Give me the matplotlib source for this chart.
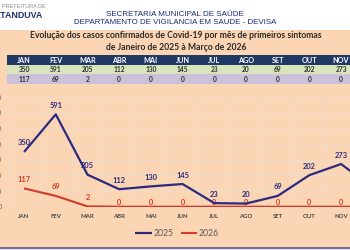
import numpy as np
import matplotlib
matplotlib.use('Agg')
import matplotlib.pyplot as plt
from matplotlib.patches import Rectangle
from matplotlib.lines import Line2D

months = ['JAN', 'FEV', 'MAR', 'ABR', 'MAI', 'JUN', 'JUL', 'AGO', 'SET', 'OUT', 'NOV', 'DEZ']
cases_2025 = [350, 591, 205, 112, 130, 145, 23, 20, 69, 202, 273, 120]
cases_2026 = [117, 69, 2, 0, 0, 0, 0, 0, 0, 0, 0, 0]
yticks = [0, 100, 200, 300, 400, 500, 600, 700]

title = ('Evolução dos casos confirmados de Covid-19 por mês de primeiros sintomas\n'
         'de Janeiro de 2025 à Março de 2026')

W, H = 350, 250
peach = '#FCD5B4'
navy = '#2B2A7E'
red = '#D23A2A'
label_font = ['Lato', 'DejaVu Sans']
narrow_font = ['Liberation Sans', 'DejaVu Sans']

fig = plt.figure(figsize=(W / 100, H / 100), dpi=100)
fig.patch.set_facecolor('white')

def fx(px):
    return px / W

def fy(py):
    return 1 - py / H

# background bands
fig.patches.append(Rectangle((0, fy(247)), 1, fy(30) - fy(247), transform=fig.transFigure,
                             facecolor=peach, edgecolor='none', zorder=-2))
fig.patches.append(Rectangle((0, 0), 1, fy(248.5), transform=fig.transFigure,
                             facecolor='#E9E4EF', edgecolor='none', zorder=-2))
fig.add_artist(Line2D([0, 1], [fy(247.6), fy(247.6)], transform=fig.transFigure,
                      color='#4B4470', lw=1.1))

# logo (cropped at the left edge)
fig.text(fx(46), fy(6.5), 'PREFEITURA DE', ha='right', va='center', fontsize=4.0,
         color='#8C8C8C', family=narrow_font)
fig.text(fx(43), fy(16), 'CATANDUVA', ha='right', va='center', fontsize=6.4,
         color='#1F2F6E', weight='bold', family=narrow_font)

# header
fig.text(fx(175), fy(14), 'SECRETARIA MUNICIPAL DE SAÚDE', ha='center', va='center',
         fontsize=5.8, color='#1B2A78', family=narrow_font)
fig.text(fx(175), fy(23), 'DEPARTAMENTO DE VIGILANCIA EM SAUDE - DEVISA', ha='center',
         va='center', fontsize=5.7, color='#1B2A78', family=narrow_font)
fig.text(fx(176), fy(41.5), title, ha='center', va='center', fontsize=6.2,
         color='#2A2A2A', weight='bold', family=label_font, linespacing=1.45)

# chart axes
x = np.arange(len(months))
xlo, xhi = -0.5, 10.28
ax = fig.add_axes([fx(8.2), fy(206.7), 1 - fx(8.2), fy(97.3) - fy(206.7)])
ax.set_facecolor(peach)
for s in ax.spines.values():
    s.set_visible(False)
ax.set_yticks(yticks)
ax.set_yticklabels([str(v) for v in yticks], fontsize=5, color='#6A6A6A')
ax.set_xticks(x)
ax.set_xticklabels(months, fontsize=4.3, color='#4A4A4A', weight='bold', family=label_font)
ax.set_xticks(np.arange(len(months) + 1) - 0.5, minor=True)
ax.set_xlim(xlo, xhi)
ax.set_ylim(0, 700)
ax.tick_params(which='both', length=0)
ax.tick_params(axis='x', pad=5)
ax.tick_params(axis='y', pad=4.5)
ax.grid(axis='y', color='#EEDCCB', lw=0.8)
ax.grid(axis='x', which='minor', color='#EEDCCB', lw=0.8)
ax.set_axisbelow(True)

ax.plot(x, cases_2026, color=red, lw=1.5, label='2026', zorder=3, solid_capstyle='butt')
ax.plot(x, cases_2025, color=navy, lw=1.6, label='2025', zorder=4, solid_capstyle='butt')

for xi, v in zip(x, cases_2025):
    ax.annotate(str(v), (xi, v), xytext=(0, 6.5), textcoords='offset points', ha='center',
                va='center', fontsize=5.4, color=navy, weight='bold', family=label_font,
                zorder=5, annotation_clip=True)
for xi, v in zip(x, cases_2026):
    off = 6.5 if v > 0 else 3
    ax.annotate(str(v), (xi, v), xytext=(0, off), textcoords='offset points', ha='center',
                va='center', fontsize=5.4, color=red, weight='bold', family=label_font,
                zorder=3.5, annotation_clip=True)

handles, labels = ax.get_legend_handles_labels()
fig.legend(handles[::-1], labels[::-1], loc='center', bbox_to_anchor=(fx(177), fy(234)),
           ncol=2, frameon=False, prop={'family': label_font, 'size': 6.2},
           labelcolor='#5A5A5A', handlelength=1.9, handletextpad=0.15, columnspacing=0.9)

# data table above the chart, sharing the month positions
tab = fig.add_axes([fx(8.2), fy(84), 1 - fx(8.2), fy(55.3) - fy(84)])
tab.set_xlim(xlo, xhi)
tab.set_ylim(0, 3)
tab.axis('off')
rows = [('#1F3864', months, 'white', 5.2), ('#D8E4BC', cases_2025, '#2F2F2F', 4.8),
        ('#CCC0DA', cases_2026, '#2F2F2F', 4.8)]
for r, (bg, vals, tc, fs) in enumerate(rows):
    yb = 2 - r
    tab.add_patch(Rectangle((-0.55, yb), 12, 1, facecolor=bg, edgecolor='none', clip_on=False))
    for xi, v in zip(x, vals):
        tab.text(xi, yb + 0.48, str(v), ha='center', va='center', fontsize=fs, color=tc,
                 weight='bold', family=label_font)

fig.savefig('out.png', dpi=100)
